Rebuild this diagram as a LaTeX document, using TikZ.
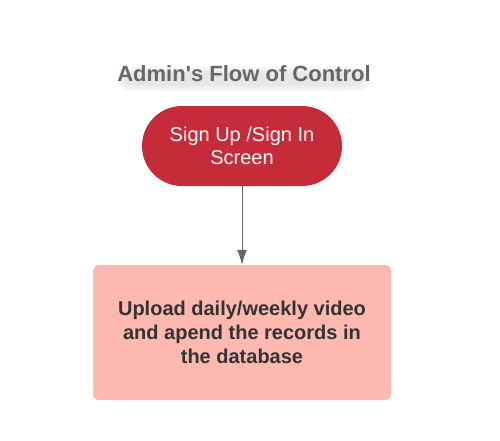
\documentclass[tikz,border=0pt]{standalone}
\usepackage{fontspec}
\setmainfont{Liberation Sans}
\usetikzlibrary{arrows.meta}
\definecolor{titlegray}{HTML}{666666}
\definecolor{signred}{HTML}{C62B3A}
\definecolor{uploadpink}{HTML}{FFB9B0}
\definecolor{textdark}{HTML}{333333}

\begin{document}
\begin{tikzpicture}[x=1pt,y=-1pt]
    \tikzstyle{every node}+=[inner sep=0pt]
    \tikzstyle{titletext}=[font=\bfseries\fontsize{22}{26}\selectfont]
    \tikzstyle{startstop}=[fill=signred, text=white, rounded corners=40pt, minimum width=200pt, minimum height=80pt, align=center, font=\fontsize{20}{23}\selectfont]
    \tikzstyle{process}=[fill=uploadpink, text=textdark, rounded corners=6pt, minimum width=298pt, minimum height=135pt, align=center, font=\bfseries\fontsize{20}{24}\selectfont]
    \useasboundingbox (0,0) rectangle (500,440);
    % soft shadow under the title
    \foreach \r in {0,...,7}
        \fill [black, opacity=0.012, rounded corners=10pt] (124-\r,73-\r) rectangle (364+\r,85+\r);
    \node [titletext, text=titlegray] (title) at (244,74) {Admin\textquotesingle s Flow of Control};
    \node [startstop] (signup) at (242,146) {Sign Up /Sign In\\Screen};
    \node [process] (upload) at (242,332.5) {Upload daily/weekly video\\and apend the records in\\the database};
    \draw [titlegray, line width=1pt, -{Latex[length=15pt,width=10pt]}] (signup) -- (upload);
\end{tikzpicture}
\end{document}
